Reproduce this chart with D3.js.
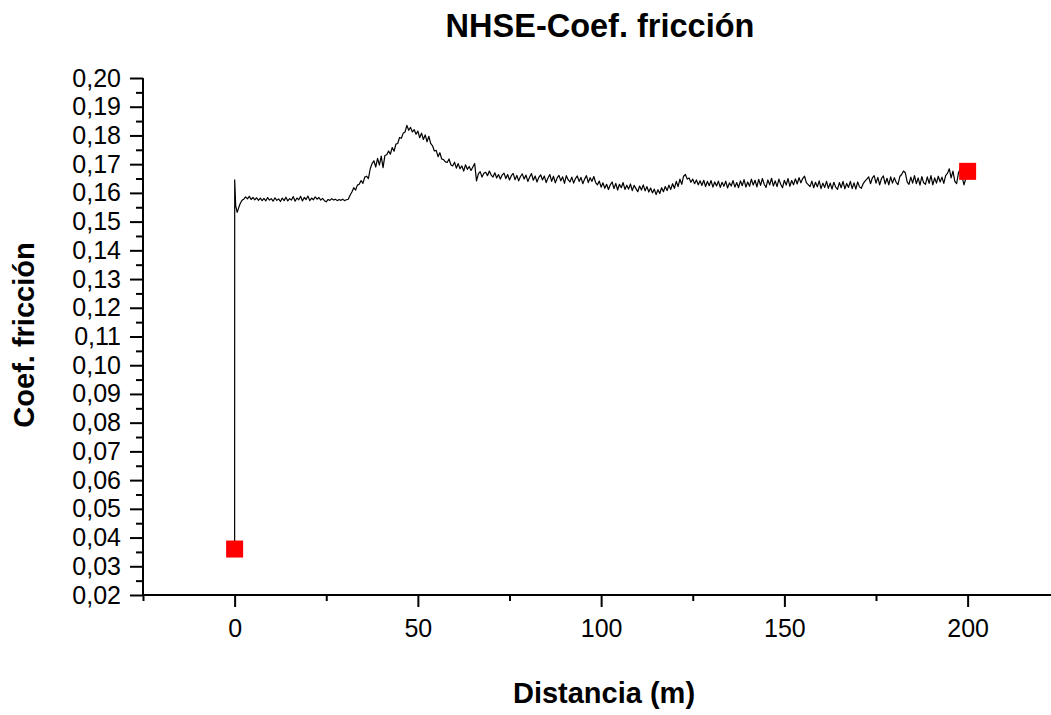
<!DOCTYPE html>
<html><head><meta charset="utf-8">
<script src="https://cdn.jsdelivr.net/npm/d3@7"></script>
<style>html,body{margin:0;padding:0;background:#fff;overflow:hidden}svg{display:block}</style>
</head><body>
<svg id="chart" width="1051" height="715"></svg>
<script>
// ---- data ----
const chartTitle = "NHSE-Coef. fricción";
const xAxisTitle = "Distancia (m)";
const yAxisTitle = "Coef. fricción";

const xMajorTicks = [0, 50, 100, 150, 200];
const xMinorTicks = [-25, 25, 75, 125, 175];
const yMajorTicks = [0.02,0.03,0.04,0.05,0.06,0.07,0.08,0.09,0.10,0.11,0.12,0.13,0.14,0.15,0.16,0.17,0.18,0.19,0.20];
const yMinorTicks = [0.025,0.035,0.045,0.055,0.065,0.075,0.085,0.095,0.105,0.115,0.125,0.135,0.145,0.155,0.165,0.175,0.185,0.195];

// initial spike of the trace
const startDist = [0, 0.02, 0.3, 0.7, 1.1, 1.5, 1.9, 2.2];
const startVals = [0.036, 0.1645, 0.1555, 0.1532, 0.1548, 0.1562, 0.1572, 0.1576];

// trace sampled every 0.5 m from 2.5 m to 199.5 m
const traceStart = 2.5, traceStep = 0.5;
const traceVals = [
.1578,.1586,.1579,.1588,.1577,.1584,.1576,.1583,.1574,.1582,
.1573,.1581,.1572,.1584,.1575,.1580,.1571,.1583,.1574,.1579,
.1570,.1582,.1573,.1585,.1572,.1580,.1575,.1587,.1571,.1582,
.1576,.1588,.1572,.1584,.1577,.1589,.1573,.1582,.1576,.1586,
.1578,.1584,.1575,.1581,.1573,.1569,.1577,.1574,.1580,.1575,
.1578,.1573,.1577,.1574,.1578,.1573,.1576,.1578,.1592,.1603,
.1618,.1610,.1627,.1630,.1643,.1633,.1655,.1658,.1650,.1684,
.1702,.1712,.1690,.1720,.1697,.1728,.1688,.1730,.1733,.1746,
.1735,.1758,.1745,.1770,.1772,.1793,.1790,.1808,.1812,.1835,
.1818,.1828,.1812,.1820,.1804,.1815,.1792,.1808,.1786,.1802,
.1778,.1797,.1772,.1764,.1746,.1748,.1726,.1740,.1718,.1716,
.1708,.1706,.1718,.1698,.1694,.1707,.1686,.1702,.1684,.1694,
.1676,.1698,.1682,.1692,.1678,.1690,.1702,.1642,.1666,.1674,
.1655,.1668,.1672,.1660,.1676,.1662,.1655,.1670,.1652,.1664,
.1648,.1662,.1669,.1650,.1664,.1645,.1660,.1668,.1646,.1661,
.1642,.1657,.1666,.1648,.1662,.1640,.1655,.1667,.1644,.1659,
.1638,.1654,.1663,.1645,.1659,.1636,.1652,.1664,.1640,.1658,
.1635,.1652,.1661,.1642,.1656,.1633,.1660,.1646,.1638,.1655,
.1634,.1650,.1659,.1640,.1654,.1632,.1648,.1660,.1636,.1653,
.1640,.1657,.1636,.1628,.1641,.1620,.1635,.1616,.1630,.1612,
.1628,.1638,.1615,.1633,.1610,.1630,.1618,.1636,.1612,.1627,
.1613,.1631,.1608,.1626,.1615,.1604,.1624,.1610,.1628,.1607,
.1622,.1603,.1617,.1600,.1613,.1594,.1611,.1598,.1618,.1604,
.1622,.1608,.1627,.1612,.1632,.1616,.1640,.1622,.1648,.1630,
.1658,.1664,.1648,.1652,.1637,.1648,.1632,.1645,.1628,.1642,
.1626,.1644,.1622,.1640,.1625,.1643,.1620,.1638,.1624,.1641,
.1619,.1637,.1623,.1641,.1617,.1635,.1624,.1643,.1620,.1636,
.1618,.1642,.1625,.1646,.1620,.1638,.1623,.1648,.1627,.1644,
.1621,.1647,.1626,.1650,.1630,.1619,.1645,.1628,.1651,.1624,
.1642,.1622,.1648,.1630,.1618,.1644,.1627,.1650,.1623,.1643,
.1628,.1649,.1631,.1653,.1635,.1650,.1658,.1636,.1629,.1622,
.1641,.1618,.1637,.1621,.1642,.1615,.1634,.1619,.1640,.1616,
.1634,.1613,.1637,.1620,.1612,.1636,.1618,.1640,.1614,.1633,
.1619,.1640,.1615,.1635,.1613,.1638,.1621,.1616,.1632,.1641,
.1648,.1656,.1632,.1652,.1660,.1634,.1654,.1628,.1650,.1659,
.1631,.1651,.1628,.1656,.1634,.1653,.1637,.1629,.1657,.1664,
.1676,.1670,.1638,.1630,.1655,.1634,.1660,.1632,.1652,.1627,
.1657,.1635,.1630,.1656,.1633,.1660,.1628,.1652,.1634,.1658,
.1638,.1655,.1633,.1660,.1668,.1684,.1652,.1676,.1640,.1632,
.1670,.1684,.1656,.1628,.1650
];
const endDist = [200];
const endVals = [0.1675];

// red square markers (first and last points)
const markerDist = [0, 200];
const markerVals = [0.036, 0.1675];

// ---- build ----
const trace = [];
startDist.forEach((d, i) => trace.push([d, startVals[i]]));
traceVals.forEach((v, i) => trace.push([traceStart + i * traceStep, v]));
endDist.forEach((d, i) => trace.push([d, endVals[i]]));

const svg = d3.select("#chart");
const plotLeft = 143, plotBottom = 595, plotTop = 78;
const x = d3.scaleLinear().domain([-25, 225]).range([plotLeft, plotLeft + 250 * 3.665]);
const y = d3.scaleLinear().domain([0.02, 0.20]).range([plotBottom, plotTop]);
const fmt = d => d3.format(".2f")(d).replace(".", ",");

// x axis
const gx = svg.append("g").attr("transform", `translate(0,${plotBottom})`);
gx.call(d3.axisBottom(x).tickValues(xMinorTicks).tickSize(6).tickFormat(""));
const gxM = svg.append("g").attr("transform", `translate(0,${plotBottom})`);
gxM.call(d3.axisBottom(x).tickValues(xMajorTicks).tickSize(12).tickPadding(12).tickFormat(d3.format("d")));

// y axis
const gy = svg.append("g").attr("transform", `translate(${plotLeft},0)`);
gy.call(d3.axisLeft(y).tickValues(yMinorTicks).tickSize(7).tickFormat(""));
const gyM = svg.append("g").attr("transform", `translate(${plotLeft},0)`);
gyM.call(d3.axisLeft(y).tickValues(yMajorTicks).tickSize(13).tickPadding(9).tickFormat(fmt));

svg.selectAll(".domain").attr("stroke", "#000").attr("stroke-width", 2);
svg.selectAll(".tick line").attr("stroke", "#000").attr("stroke-width", 2);
svg.selectAll(".tick text").attr("fill", "#000")
  .style("font-family", "'Liberation Sans', Arial, sans-serif").style("font-size", "25px");
gx.select(".domain").remove();
gy.select(".domain").remove();
gxM.select(".domain").attr("d", `M${plotLeft},0H1060`);
gyM.select(".domain").attr("d", `M0,${plotTop}V${plotBottom}`);

// trace
svg.append("path")
  .datum(trace)
  .attr("fill", "none")
  .attr("stroke", "#000")
  .attr("stroke-width", 1.2)
  .attr("stroke-linejoin", "round")
  .attr("d", d3.line().x(d => x(d[0])).y(d => y(d[1])));

// markers
const ms = 17;
svg.append("g").selectAll("rect")
  .data(markerDist.map((d, i) => [d, markerVals[i]]))
  .join("rect")
  .attr("x", d => x(d[0]) - ms / 2)
  .attr("y", d => y(d[1]) - ms / 2)
  .attr("width", ms).attr("height", ms)
  .attr("fill", "#ff0000");

// titles
const boldFont = "'Liberation Sans', Arial, sans-serif";
svg.append("text").attr("x", 600).attr("y", 37).attr("text-anchor", "middle")
  .style("font-family", boldFont).style("font-weight", "bold").style("font-size", "32.5px")
  .text(chartTitle);
svg.append("text").attr("x", 604).attr("y", 703).attr("text-anchor", "middle")
  .style("font-family", boldFont).style("font-weight", "bold").style("font-size", "29px")
  .text(xAxisTitle);
svg.append("text").attr("transform", "translate(34,335) rotate(-90)").attr("text-anchor", "middle")
  .style("font-family", boldFont).style("font-weight", "bold").style("font-size", "29px")
  .text(yAxisTitle);
</script>
</body></html>
